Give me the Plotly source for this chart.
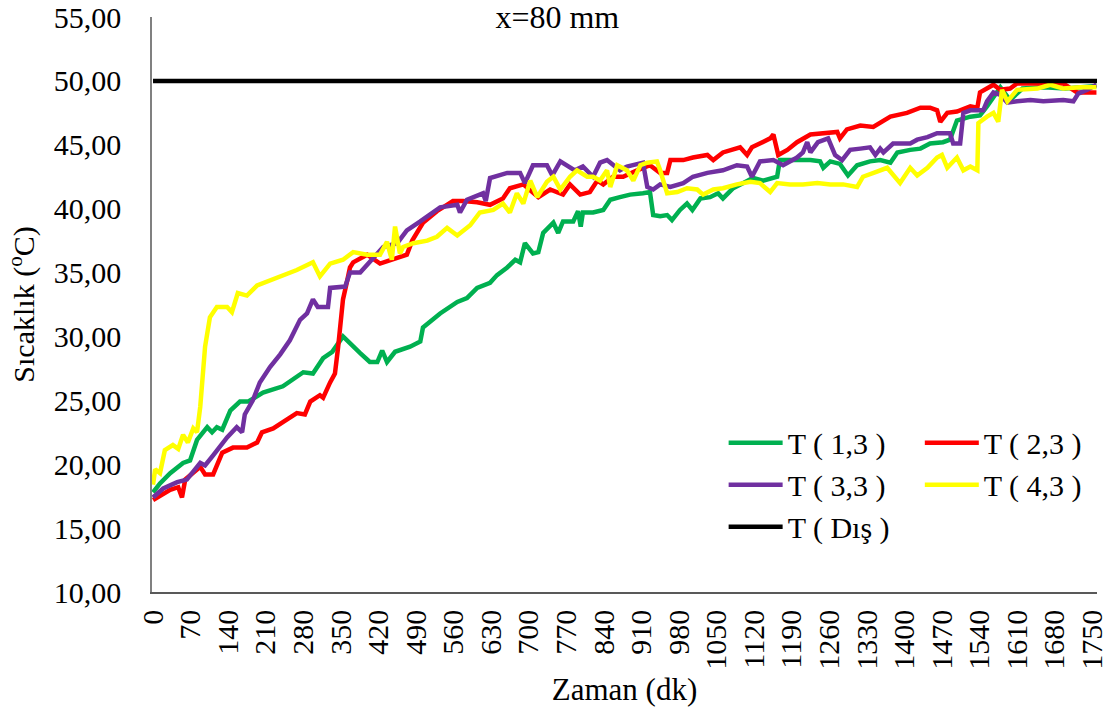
import plotly.graph_objects as go

# ---------------- data ----------------
t_g = [0,13,32,56,69,82,101,110,119,129,144,162,177,205,242,280,298,317,334,354,386,404,418,427,436,451,479,498,503,535,567,585,604,628,641,660,675,684,693,708,718,727,746,755,764,783,792,797,801,820,839,852,870,889,913,926,932,945,958,967,982,995,1005,1020,1038,1053,1062,1081,1100,1118,1137,1163,1168,1200,1225,1243,1249,1262,1280,1295,1312,1336,1355,1374,1387,1411,1430,1448,1472,1485,1498,1523,1541,1554,1566,1579,1597,1620,1660,1700,1758]
v_g = [17.8,18.5,19.3,20.1,20.3,21.9,22.9,22.5,22.9,22.7,24.2,24.9,24.9,25.6,26.1,27.2,27.1,28.3,28.8,30.0,28.7,28.0,28.0,28.9,28.0,28.8,29.2,29.6,30.7,31.8,32.7,33.0,33.8,34.2,34.8,35.4,36.0,35.8,37.3,36.5,36.6,38.1,38.9,38.1,39.0,39.0,39.8,38.6,39.7,39.7,39.9,40.7,40.9,41.1,41.2,41.3,39.5,39.4,39.5,39.1,39.9,40.4,39.9,40.8,40.9,41.2,40.8,41.6,42.0,42.4,42.2,42.5,43.8,43.8,43.8,43.7,43.2,43.7,43.5,42.6,43.4,43.7,43.8,43.6,44.4,44.6,44.7,45.1,45.2,45.4,46.9,47.2,47.3,48.0,48.7,49.5,48.5,49.4,49.5,49.4,49.6]

t_r = [0,32,47,54,60,88,97,112,129,149,175,194,203,224,242,268,283,293,311,317,330,339,345,354,362,367,373,399,423,447,473,483,503,529,559,578,604,628,652,665,690,718,740,764,777,796,814,828,839,857,876,902,926,945,958,964,988,1006,1033,1044,1062,1094,1107,1116,1150,1156,1165,1182,1200,1225,1256,1275,1280,1293,1318,1342,1374,1405,1430,1448,1461,1467,1480,1498,1523,1536,1541,1554,1566,1579,1597,1610,1696,1722,1758]
v_r = [17.2,18.0,18.2,17.4,18.8,19.8,19.2,19.2,20.9,21.3,21.3,21.7,22.5,22.8,23.3,24.0,23.9,24.9,25.4,25.2,26.4,27.1,29.2,32.9,34.4,35.4,35.8,36.4,35.7,36.0,36.4,37.5,38.9,39.8,40.6,40.6,40.5,40.3,40.8,41.6,41.9,40.9,41.5,41.1,41.9,41.1,41.3,42.2,41.9,42.5,42.5,43.0,43.4,42.8,42.8,43.8,43.8,44.0,44.2,43.8,44.4,44.8,44.2,44.8,45.5,45.8,44.2,44.6,45.2,45.8,45.9,46.0,45.5,46.2,46.5,46.4,47.2,47.5,47.9,47.9,47.7,46.8,47.5,47.6,48.0,47.9,49.1,49.4,49.7,49.3,49.4,49.8,49.8,49.1,49.1]

t_p = [0,19,45,63,88,97,112,125,138,156,166,171,186,199,218,237,255,274,287,298,307,326,330,358,367,386,399,410,429,455,473,498,516,535,567,572,585,615,620,628,660,684,693,708,734,744,759,786,801,820,833,846,870,883,913,921,932,945,964,988,1006,1033,1062,1088,1107,1116,1131,1156,1174,1200,1211,1219,1225,1239,1258,1271,1284,1299,1318,1336,1346,1355,1361,1379,1411,1424,1443,1461,1485,1491,1504,1510,1523,1547,1554,1566,1579,1592,1610,1635,1659,1696,1715,1724,1741,1758]
v_p = [17.4,18.1,18.6,18.8,20.1,19.9,20.7,21.4,22.1,22.9,22.5,23.9,25.0,26.4,27.6,28.6,29.7,31.3,31.8,32.9,32.3,32.3,33.8,33.9,35.0,35.0,35.6,36.1,37.0,37.3,38.3,39.0,39.5,40.1,40.3,39.7,40.7,41.2,40.6,42.4,42.8,42.8,42.0,43.4,43.4,42.6,43.7,43.0,43.3,42.5,43.6,43.8,43.0,43.3,43.6,41.7,41.5,41.9,41.7,42.0,42.5,42.8,43.0,43.4,43.3,42.5,43.7,43.8,43.4,44.0,44.4,45.2,44.4,45.2,45.5,44.2,43.8,44.6,44.7,44.8,44.2,44.7,44.4,45.1,45.1,45.4,45.6,45.9,45.9,45.1,45.1,47.5,47.7,47.7,48.4,49.1,48.9,48.3,48.4,48.5,48.4,48.5,48.4,49.0,49.3,49.7]

t_y = [0,4,13,22,37,47,56,65,75,82,88,97,106,119,138,147,158,175,194,213,242,268,298,311,330,354,373,399,423,436,445,451,460,466,485,511,529,548,567,591,609,634,652,665,678,690,703,716,734,746,759,777,790,809,820,833,846,852,865,883,895,908,921,939,945,958,977,995,1014,1025,1044,1062,1088,1113,1131,1150,1163,1187,1211,1238,1262,1286,1312,1323,1349,1368,1392,1411,1424,1443,1461,1470,1480,1498,1510,1523,1536,1538,1554,1566,1575,1582,1592,1610,1648,1672,1696,1728,1758]
v_y = [18.4,19.6,19.3,21.1,21.5,21.2,22.3,21.7,22.8,22.5,24.5,29.2,31.5,32.3,32.3,31.9,33.4,33.2,34.0,34.3,34.7,35.2,35.8,34.7,35.7,36.0,36.6,36.4,36.4,37.4,36.0,38.6,36.5,37.0,37.3,37.5,37.8,38.5,37.9,38.7,39.7,39.9,40.4,39.7,41.2,40.4,42.2,40.9,42.1,42.5,41.5,42.5,43.0,42.5,42.5,42.2,43.0,41.7,43.4,43.0,42.2,43.4,43.6,43.7,43.0,41.2,41.3,41.6,41.5,41.1,41.5,41.6,41.9,42.1,42.0,41.3,42.0,41.9,41.9,42.0,41.9,41.9,41.7,42.5,42.9,43.2,42.0,43.2,42.6,43.2,44.0,44.2,43.2,44.0,43.0,43.3,43.0,46.7,47.2,47.5,46.8,49.3,48.4,49.3,49.4,49.7,49.4,49.5,49.5]

t_out = [0, 1759]
v_out = [50, 50]

x_ticks = list(range(0, 1751, 70))
y_ticks = [10, 15, 20, 25, 30, 35, 40, 45, 50, 55]

names = ["T ( 1,3 )", "T ( 2,3 )", "T ( 3,3 )", "T ( 4,3 )", "T ( Dış )"]
colors = ["#00B050", "#FF0000", "#7030A0", "#FFFF00", "#000000"]

FONT = "Liberation Serif, Times New Roman, serif"

fig = go.Figure()
series = [(t_g, v_g, "legend"), (t_r, v_r, "legend2"), (t_p, v_p, "legend"),
          (t_y, v_y, "legend2"), (t_out, v_out, "legend")]
for i, (tx, vy, lg) in enumerate(series):
    fig.add_trace(go.Scatter(
        x=tx, y=vy, mode="lines", name=names[i],
        line=dict(color=colors[i], width=4.5),
        legend=lg, legendgroup=names[i],
    ))

fig.update_layout(
    width=1108, height=720,
    margin=dict(l=152, r=11, t=17, b=128, autoexpand=False),
    paper_bgcolor="white", plot_bgcolor="white",
    separators=",.",
    font=dict(family=FONT, size=30, color="black"),
    title=dict(text="x=80 mm", x=0.503, xref="container", xanchor="center",
               y=1 - 17 / 720, yref="container", yanchor="middle",
               font=dict(family=FONT, size=32, color="black")),
    showlegend=True,
    legend=dict(x=0.6049, y=0.305, xanchor="left", yanchor="top", itemwidth=54,
                bgcolor="rgba(0,0,0,0)", tracegroupgap=0,
                font=dict(family=FONT, size=30, color="black")),
    legend2=dict(x=0.8125, y=0.305, xanchor="left", yanchor="top", itemwidth=54,
                 bgcolor="rgba(0,0,0,0)", tracegroupgap=0,
                 font=dict(family=FONT, size=30, color="black")),
)

fig.update_xaxes(
    automargin=False,
    range=[-1.9, 1759], tickmode="array", tickvals=x_ticks,
    ticktext=[str(v) for v in x_ticks], tickangle=-90,
    showgrid=False, zeroline=False, showline=True, linecolor="#595959", linewidth=1.5,
    ticks="", ticklabelstandoff=4,
    tickfont=dict(family=FONT, size=30, color="black"),
    title=dict(text="Zaman (dk)", standoff=10, font=dict(family=FONT, size=31, color="black")),
)
fig.update_yaxes(
    automargin=False,
    range=[10, 55], tickmode="array", tickvals=y_ticks, tickformat=".2f",
    showgrid=False, zeroline=False, showline=True, linecolor="#808080", linewidth=1.5,
    ticks="", ticklabelstandoff=23,
    tickfont=dict(family=FONT, size=30, color="black"),
    title=dict(text="Sıcaklık (<sup>o</sup>C)", standoff=10, font=dict(family=FONT, size=30, color="black")),
)

fig.write_html("out.html", config={"displayModeBar": False},
               post_script="document.body.style.margin='0px';")
